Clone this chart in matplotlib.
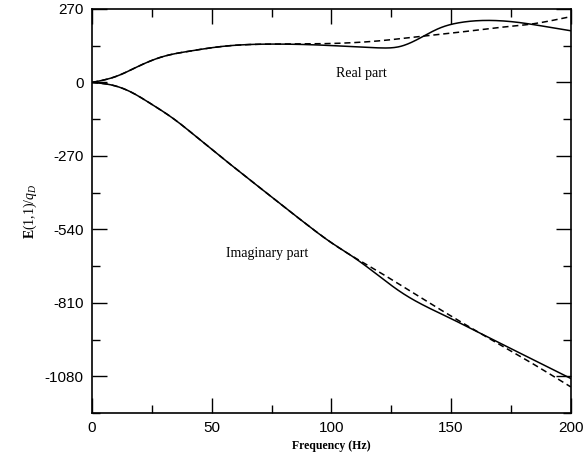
import matplotlib
matplotlib.use('Agg')
import matplotlib.pyplot as plt
import numpy as np
from matplotlib.ticker import MultipleLocator

plt.rcParams['mathtext.fontset'] = 'custom'
plt.rcParams['mathtext.rm'] = 'Liberation Serif'
plt.rcParams['mathtext.it'] = 'Liberation Serif:italic'
plt.rcParams['mathtext.bf'] = 'Liberation Serif:bold'
plt.rcParams['axes.unicode_minus'] = False

# frequency (Hz) and values
f_real = [0, 10, 20, 30, 40, 55, 75, 99, 112, 120, 128.6, 137, 145.3, 153.7, 166, 178.7, 187, 200]
real_meas = [0, 22, 62, 96, 114, 133, 141, 136, 130, 127, 132, 163, 200, 220, 228, 220, 209, 190]
f_real_fit = [0, 10, 20, 30, 40, 55, 75, 99, 120, 137, 153.7, 170, 183, 200]
real_fit = [0, 22, 62, 96, 114, 133, 141, 143, 153, 169, 185, 202, 214, 242]

f_imag = [0, 8, 16, 24, 34, 45, 70, 90, 100, 107.7, 114, 120, 128.6, 137, 149.5, 162, 174.5, 187, 200]
imag_meas = [0, -9, -34, -75, -133, -210, -386, -524, -589, -633, -672, -712, -768, -812, -866, -921, -976, -1031, -1088]
f_imag_fit = [0, 8, 16, 24, 34, 45, 70, 90, 100, 107.7, 120, 137, 149.5, 162, 174.5, 187, 200]
imag_fit = [0, -9, -34, -75, -133, -210, -386, -524, -589, -633, -697, -789, -856, -921, -984, -1049, -1119]


def spline(x, y, n=500):
    # natural cubic spline through the read points
    x = np.asarray(x, float)
    y = np.asarray(y, float)
    k = len(x)
    h = np.diff(x)
    A = np.zeros((k, k))
    b = np.zeros(k)
    A[0, 0] = A[-1, -1] = 1
    for i in range(1, k - 1):
        A[i, i - 1] = h[i - 1]
        A[i, i] = 2 * (h[i - 1] + h[i])
        A[i, i + 1] = h[i]
        b[i] = 6 * ((y[i + 1] - y[i]) / h[i] - (y[i] - y[i - 1]) / h[i - 1])
    M = np.linalg.solve(A, b)
    xs = np.linspace(x[0], x[-1], n)
    j = np.clip(np.searchsorted(x, xs) - 1, 0, k - 2)
    t0 = x[j + 1] - xs
    t1 = xs - x[j]
    hj = h[j]
    ys = (M[j] * t0**3 + M[j + 1] * t1**3) / (6 * hj) \
        + (y[j] / hj - M[j] * hj / 6) * t0 + (y[j + 1] / hj - M[j + 1] * hj / 6) * t1
    return xs, ys


fig = plt.figure(figsize=(5.86, 4.66), dpi=100)
ax = fig.add_axes([0.157, 0.1137, 0.817, 0.867])

lw = 1.1
dash = (0, (4, 2.5))
ax.plot(*spline(f_real, real_meas), color='black', lw=lw)
ax.plot(*spline(f_real_fit, real_fit), color='black', lw=lw, ls=dash)
ax.plot(*spline(f_imag, imag_meas), color='black', lw=lw)
ax.plot(*spline(f_imag_fit, imag_fit), color='black', lw=lw, ls=dash)

ax.text(112.7, 33, 'Real part', family='Liberation Serif', fontsize=10, ha='center', va='center')
ax.text(73, -628, 'Imaginary part', family='Liberation Serif', fontsize=10, ha='center', va='center')

ax.set_xlim(0, 200)
ax.set_ylim(-1215, 270)
ax.xaxis.set_major_locator(MultipleLocator(50))
ax.xaxis.set_minor_locator(MultipleLocator(25))
ax.yaxis.set_major_locator(MultipleLocator(270))
ax.yaxis.set_minor_locator(MultipleLocator(135))
ax.tick_params(which='both', direction='in', top=True, right=True, width=1)
ax.tick_params(which='major', length=11, labelsize=11, pad=6)
ax.tick_params(which='minor', length=6)
for lab in ax.get_xticklabels() + ax.get_yticklabels():
    lab.set_family('Liberation Sans')
for s in ax.spines.values():
    s.set_linewidth(1.2)

ax.set_xlabel('Frequency (Hz)', family='Liberation Serif', fontweight='bold', fontsize=8.5, labelpad=3)
ax.set_ylabel(r'$\mathbf{E}\mathit{(1{,}1)/q_D}$', fontsize=10, labelpad=4)

fig.savefig('out.png', dpi=100)
